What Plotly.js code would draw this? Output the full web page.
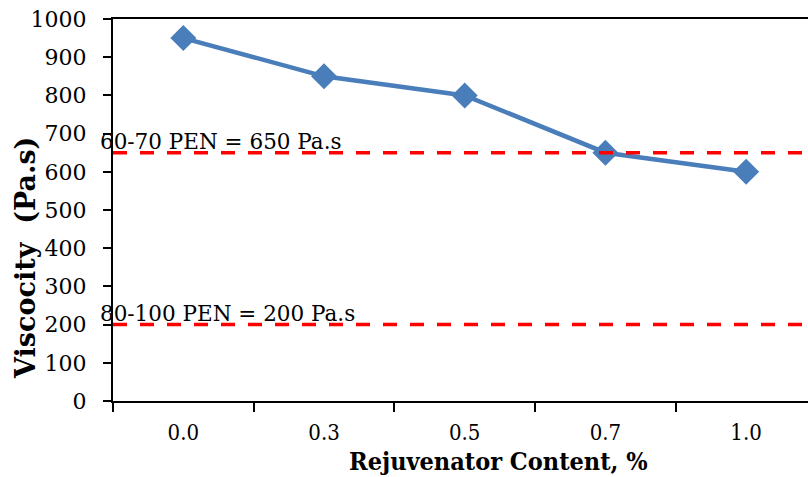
<!DOCTYPE html>
<html>
<head>
<meta charset="utf-8">
<script src="https://cdn.plot.ly/plotly-3.0.1.min.js"></script>
<style>html,body{margin:0;padding:0;background:#fff;}#chart{width:808px;height:477px;}</style>
</head>
<body>
<div id="chart"></div>
<script>
const categories = ["0.0", "0.3", "0.5", "0.7", "1.0"];
const viscosity = [950, 850, 800, 650, 600];
const refLevels = [650, 200];
const refLabels = ["60-70 PEN = 650 Pa.s", "80-100 PEN = 200 Pa.s"];
const yTicks = [0, 100, 200, 300, 400, 500, 600, 700, 800, 900, 1000];
const xTitle = "Rejuvenator Content, %";
const yTitle = "Viscocity  (Pa.s)";

const trace = {
  x: categories,
  y: viscosity,
  type: "scatter",
  mode: "lines+markers",
  line: {color: "#4A7EBB", width: 4.5},
  marker: {symbol: "diamond", size: 20, color: "#4A7EBB"},
  showlegend: false,
  cliponaxis: false
};

const shapes = refLevels.map(v => ({
  type: "line", xref: "paper", x0: 0, x1: 1, yref: "y", y0: v, y1: v,
  line: {color: "#FF0000", width: 3.5, dash: "14px,13px"}
}));

const annotations = refLevels.map((v, i) => ({
  xref: "paper", x: -0.022, xanchor: "left",
  yref: "y", y: v, yanchor: "bottom", yshift: -3,
  text: refLabels[i], showarrow: false,
  font: {family: "DejaVu Serif, serif", size: 21.5, color: "#000"}
}));

annotations.push({
  xref: "paper", x: -0.125, xanchor: "center",
  yref: "paper", y: 0.375, yanchor: "middle",
  text: yTitle, textangle: -90, showarrow: false,
  font: {family: "DejaVu Serif, serif", size: 27, color: "#000", weight: "bold"}
});

annotations.push({
  xref: "paper", x: 0.555, xanchor: "center",
  yref: "paper", y: -0.158, yanchor: "middle",
  text: xTitle, showarrow: false,
  font: {family: "DejaVu Serif Condensed, DejaVu Serif, serif", size: 25, color: "#000", weight: "bold"}
});

const layout = {
  width: 808, height: 477,
  margin: {l: 113, r: 0, t: 19, b: 76},
  paper_bgcolor: "#fff", plot_bgcolor: "#fff",
  xaxis: {
    type: "category", categoryarray: categories,
    range: [-0.5, 4.44],
    tickson: "boundaries",
    ticks: "outside", ticklen: 9, tickwidth: 2, tickcolor: "#000",
    showline: true, linewidth: 2, linecolor: "#000", mirror: true,
    showgrid: false, zeroline: false,
    ticklabelstandoff: 11,
    tickfont: {family: "DejaVu Serif Condensed, DejaVu Serif, serif", size: 22, color: "#000"}
  },
  yaxis: {
    range: [0, 1000], tickvals: yTicks,
    ticks: "outside", ticklen: 8, tickwidth: 2, tickcolor: "#000",
    showline: true, linewidth: 2, linecolor: "#000",
    showgrid: false, zeroline: false,
    ticklabelstandoff: 12,
    tickfont: {family: "DejaVu Serif, serif", size: 22, color: "#000"}
  },
  shapes: shapes,
  annotations: annotations
};

Plotly.newPlot("chart", [trace], layout, {staticPlot: true, displayModeBar: false});
</script>
</body>
</html>
